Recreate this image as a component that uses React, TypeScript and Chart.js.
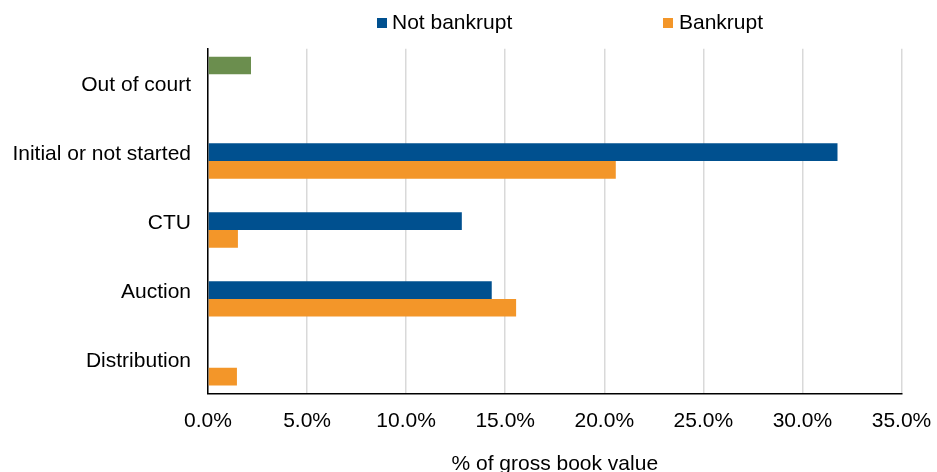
import React, { useEffect, useRef } from "react";
import { Chart, registerables } from "chart.js";

Chart.register(...registerables);

const categories = ["Out of court", "Initial or not started", "CTU", "Auction", "Distribution"];
const outOfCourt = [2.17, null, null, null, null];
const notBankrupt = [null, 31.77, 12.81, 14.32, null];
const bankrupt = [null, 20.58, 1.51, 15.55, 1.46];
const legendLabels = ["Not bankrupt", "Bankrupt"];
const xTicksMax = 35;
const xTickStep = 5;
const xTitle = "% of gross book value";

const FONT = "'Liberation Sans', Arial, sans-serif";
const BLUE = "#00508f";
const ORANGE = "#f39629";
const GREEN = "#6b8e4e";

const legendPlugin = {
  id: "customLegend",
  afterDraw(chart: any) {
    const ctx = chart.ctx;
    ctx.save();
    ctx.font = `21px ${FONT}`;
    ctx.textBaseline = "middle";
    ctx.textAlign = "left";
    const items = [
      { text: legendLabels[0], color: BLUE, boxX: 377, textX: 392 },
      { text: legendLabels[1], color: ORANGE, boxX: 663, textX: 679 },
    ];
    for (const it of items) {
      ctx.fillStyle = it.color;
      ctx.fillRect(it.boxX, 18, 10, 10);
      ctx.fillStyle = "#000";
      ctx.fillText(it.text, it.textX, 23);
    }
    ctx.restore();
  },
};

export default function App() {
  const ref = useRef<HTMLCanvasElement | null>(null);
  useEffect(() => {
    if (!ref.current) return;
    const chart = new Chart(ref.current, {
      type: "bar",
      data: {
        labels: categories,
        datasets: [
          { label: "Out of court", data: outOfCourt as any, backgroundColor: GREEN, borderWidth: 0 },
          { label: legendLabels[0], data: notBankrupt as any, backgroundColor: BLUE, borderWidth: 0 },
          { label: legendLabels[1], data: bankrupt as any, backgroundColor: ORANGE, borderWidth: 0 },
        ],
      },
      options: {
        indexAxis: "y",
        responsive: false,
        animation: false,
        devicePixelRatio: 1,
        datasets: { bar: { categoryPercentage: 0.77, barPercentage: 1 } },
        layout: { padding: { top: 48.7, right: 35.5, bottom: 0, left: 0 } },
        plugins: {
          legend: { display: false },
          tooltip: { enabled: false },
          title: { display: false },
        },
        scales: {
          x: {
            min: 0,
            max: xTicksMax,
            grid: { color: "#d9d9d9", lineWidth: 1.5, drawTicks: false },
            border: { display: true, color: "#000", width: 1.5 },
            ticks: {
              stepSize: xTickStep,
              padding: 15,
              color: "#000",
              font: { family: FONT, size: 21 },
              callback: (v: any) => Number(v).toFixed(1) + "%",
            },
            title: {
              display: true,
              text: xTitle,
              color: "#000",
              font: { family: FONT, size: 21, lineHeight: 1 },
              padding: { top: 5.3, bottom: -3 },
            },
            afterFit: (scale: any) => {
              scale.paddingRight = 0;
              scale.paddingLeft = 0;
            },
          },
          y: {
            grid: { display: false, drawTicks: false },
            border: { display: true, color: "#000", width: 1.5 },
            ticks: {
              padding: 17,
              labelOffset: 2,
              color: "#000",
              font: { family: FONT, size: 21 },
            },
            afterFit: (scale: any) => {
              scale.width = 208;
            },
          },
        },
      },
      plugins: [legendPlugin],
    });
    return () => chart.destroy();
  }, []);
  return (
    <div style={{ position: "absolute", left: 0, top: 0, width: 937, height: 472, background: "#fff" }}>
      <canvas ref={ref} width={937} height={472} style={{ display: "block", width: 937, height: 472 }} />
    </div>
  );
}
